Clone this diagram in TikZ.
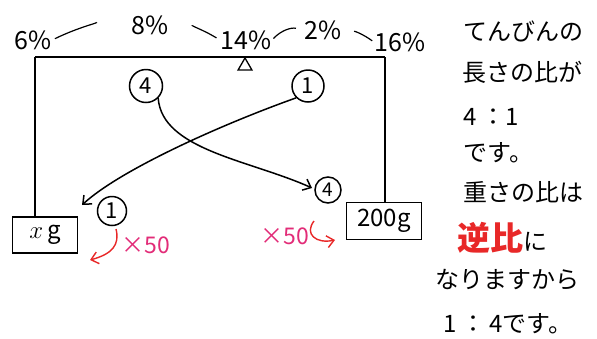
\documentclass[tikz,border=0pt]{standalone}
\usepackage{fontspec}
\setmainfont{Noto Sans CJK JP}
\usetikzlibrary{arrows.meta,shapes.geometric}

\definecolor{markred}{RGB}{232,40,40}
\definecolor{markpink}{RGB}{226,44,120}

\begin{document}
\begin{tikzpicture}[x=1pt, y=-1pt, line width=1.5pt,
    pct/.style={font=\fontsize{25}{26}\selectfont, inner sep=0pt},
    num/.style={draw, circle, inner sep=0pt, minimum size=#1, font=\fontsize{22}{22}\selectfont},
    weight/.style={draw, inner sep=0pt, minimum width=65pt, minimum height=36pt, font=\fontsize{24}{24}\selectfont},
    times/.style={text=markpink, font=\fontsize{23}{24}\selectfont, inner sep=0pt},
    note/.style={anchor=west, inner sep=0pt, font=\fontsize{24}{26}\selectfont},
    arr/.style={-{Straight Barb[length=7pt, width=12pt]}}]
  \useasboundingbox (0,0) rectangle (597,338);

  % percentages above the beam
  \node[pct] (p6) at (33,40) {6\%};
  \node[pct] (p8) at (150,25) {8\%};
  \node[pct] (p14) at (246,40) {14\%};
  \node[pct] (p2) at (323,30) {2\%};
  \node[pct] (p16) at (400,42) {16\%};

  \draw[line width=1.2pt, shorten <=3pt, shorten >=35pt] (p6.east) to[bend left=15] (p8.west);
  \draw[line width=1.2pt, shorten <=24pt, shorten >=4pt] (p8.east) to[bend left=15] (p14.west);
  \draw[line width=1.2pt, shorten <=2pt, shorten >=8pt] (p14.east) to[bend left=30] (p2.west);
  \draw[line width=1.2pt, shorten <=12pt, shorten >=2pt] (p2.east) to[bend left=15] (p16.west);

  % beam and fulcrum
  \coordinate (bl) at (35,57);
  \coordinate (br) at (385,57);
  \draw (bl) -- (br);
  \node[draw, isosceles triangle, isosceles triangle apex angle=60, shape border rotate=90,
        inner sep=0pt, minimum size=12pt, line width=1.3pt] (fulcrum) at (245,66) {};

  % weights
  \node[weight] (xg) at (45,235) {$x$\,g};
  \node[weight, minimum width=75pt, minimum height=37pt] (w200) at (384,221) {200g};
  \draw (bl) -- (bl |- xg.north);
  \draw (br) -- (br |- w200.north);

  % lengths 4 : 1
  \node[num=33pt] (lenL) at (146,86) {4};
  \node[num=32pt] (lenR) at (308,86) {1};

  % weights 1 : 4
  \node[num=29pt] (wtL) at (112,211) {1};
  \node[num=26pt, font=\fontsize{19}{19}\selectfont] (wtR) at (328,190) {4};

  \coordinate (endL) at (82,205);
  \coordinate (endR) at (312,188);
  \draw[arr] (lenR.south west) .. controls (220,125) and (120,170) .. (endL);
  \draw[arr] (lenL.south east) .. controls (162,150) and (250,160) .. (endR);

  % times 50
  \node[times] (mulL) at (146,245) {×50};
  \node[times] (mulR) at (285,236) {×50};
  \coordinate (srcL) at (116,229);
  \coordinate (tipL) at (90,260);
  \coordinate (srcR) at (314,221);
  \coordinate (tipR) at (335,240);
  \draw[arr, markred, line width=1.4pt] (srcL) .. controls (120,245) and (112,254) .. (tipL);
  \draw[arr, markred, line width=1.4pt] (srcR) .. controls (304,234) and (316,244) .. (tipR);

  % explanation
  \node[note] (t1) at (463,31) {てんびんの};
  \node[note] (t2) at (462,72) {長さの比が};
  \node[note] (t3) at (463,117) {4\,：1};
  \node[note] (t4) at (463,153) {です。};
  \node[note] (t5) at (463,192) {重さの比は};
  \node[note] (t6) at (457,238) {\textcolor{markred}{\fontsize{33}{34}\selectfont\bfseries 逆比}に};
  \node[note] (t7) at (435,280) {なりますから};
  \node[note] (t8) at (443,324) {1\,：\,4です。};
\end{tikzpicture}
\end{document}
